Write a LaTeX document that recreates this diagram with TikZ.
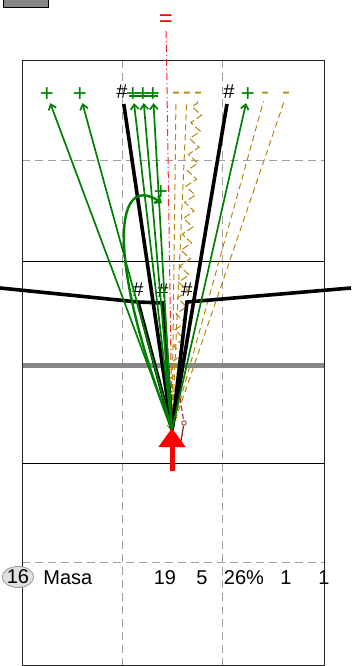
\documentclass[tikz,border=0pt]{standalone}
\usepackage{fontspec}
\setmainfont{Liberation Sans}
\usetikzlibrary{arrows.meta,positioning,shapes.geometric,decorations.pathmorphing}
\definecolor{pass}{HTML}{008000}
\definecolor{gold}{HTML}{B8860B}
\definecolor{dred}{HTML}{8B1A1A}
\definecolor{grd}{HTML}{A0A0A0}
\definecolor{bar}{HTML}{888888}
\tikzset{
  frame/.style={draw=black!85,line width=0.9pt},
  gridln/.style={draw=grd,line width=0.9pt,dash pattern=on 8pt off 5pt},
  plusmk/.style={text=pass,inner sep=1.5pt,font=\fontsize{24}{24}\selectfont},
  hashmk/.style={text=black,inner sep=1pt,font=\fontsize{20}{20}\selectfont},
  dashmk/.style={text=gold,inner sep=1.5pt,font=\fontsize{24}{24}\selectfont},
  track/.style={draw=black,line width=3.6pt},
  passar/.style={draw=pass,line width=1.7pt,-{Straight Barb[length=5pt,width=8pt]}},
  goldln/.style={draw=gold,line width=1pt,dash pattern=on 6pt off 4pt},
  refln/.style={draw=red!85,line width=1pt,dash pattern=on 7pt off 3pt on 1pt off 3pt},
  redar/.style={draw=red,line width=5pt,-{Triangle[length=19pt,width=26pt]}},
  rowtxt/.style={inner sep=0pt,text height=14pt,text depth=0pt,font=\fontsize{20}{20}\selectfont},
}

\begin{document}
\begin{tikzpicture}[x=1pt,y=-1pt]
\useasboundingbox (0,0) rectangle (351,666);
\draw[draw=black,fill=bar,line width=0.9pt] (3,-2) rectangle (48,7);

\draw[gridln] (122,60) -- (122,665);
\draw[gridln] (222,60) -- (222,665);
\draw[gridln] (22,160) -- (324,160);
\draw[gridln] (22,562) -- (324,562);
\draw[draw=black,line width=0.8pt] (22,261) -- (324,261);
\draw[draw=black,line width=0.8pt] (22,463) -- (324,463);
\draw[draw=bar,line width=5pt] (22,365) -- (324,365);
\draw[frame] (22,60) rectangle (324,665);

\coordinate (o) at (172,430);
\node[text=red,inner sep=1pt,font=\fontsize{24}{24}\selectfont] (eq) at (166,21) {=};

\node[plusmk] (g1) at (47,94.5) {+};
\node[plusmk] (g2) at (80,94.5) {+};
\node[plusmk] (g3) at (133,94.5) {+};
\node[plusmk] (g4) at (143,94.5) {+};
\node[plusmk] (g5) at (153,94.5) {+};
\node[plusmk] (g6) at (248,94.5) {+};
\node[plusmk] (g7) at (161,192.5) {+};
\draw[draw=pass,line width=1.5pt,shorten <=-4pt,shorten >=-5pt] ([yshift=-1.5pt]g3.center) -- ([yshift=-1.5pt]g5.center);
\node[hashmk] (h1) at (122,92) {\#};
\node[hashmk] (h2) at (229,92) {\#};
\node[dashmk] (d1) at (176,96) {-};
\node[dashmk] (d2) at (187,96) {-};
\node[dashmk] (d3) at (198,96) {-};
\node[dashmk] (d4) at (265,96) {-};
\node[dashmk] (d5) at (286,96) {-};

\coordinate (eL) at (0,288);
\coordinate (b1) at (138,302);
\coordinate (b2) at (163,303);
\coordinate (b3) at (187,302);
\coordinate (eR) at (351,288);
\node[hashmk,above=4pt of b1] (h3) {\#};
\node[hashmk,above=4pt of b2] (h4) {\#};
\node[hashmk,above=4pt of b3] (h5) {\#};

\draw[goldln] (o) -- (d1);
\draw[goldln] (o) -- (d2);
\draw[goldln,dash pattern=on 7pt off 3pt,decorate,decoration={zigzag,segment length=16pt,amplitude=5pt}] (o) -- (d3);
\draw[goldln] (o) -- (d4);
\draw[goldln] (o) -- (d5);
\draw[refln,shorten >=2pt] (o) -- (eq);

\draw[track,shorten >=4pt] (o) -- (h1);
\draw[track,shorten >=4pt] (o) -- (h2);
\draw[track] (eL) -- (b1) -- (b2) -- (o);
\draw[track] (b1) -- (o);
\draw[track] (eR) -- (b3) -- (o);

\draw[passar] (o) -- (g1);
\draw[passar] (o) -- (g2);
\draw[passar] (o) -- (g3);
\draw[passar] (o) -- (g4);
\draw[passar] (o) -- (g5);
\draw[passar] (o) -- (g6);
\coordinate (c7) at (162,203);
\draw[passar,line width=2.4pt] (o) .. controls (108,265) and (112,170) .. (c7);

\coordinate (r0) at (180,398);
\node[circle,draw=dred,line width=0.8pt,minimum size=4.5pt,inner sep=0pt] (ring) at (184,423) {};
\coordinate (r1) at (180,447);
\draw[draw=dred,line width=1pt,dash pattern=on 5pt off 3pt] (r0) -- (ring);
\draw[draw=dred,line width=1.2pt] (ring) -- (r1);
\coordinate (rb) at (172,471);
\coordinate (rt) at (172,428);
\draw[redar] (rb) -- (rt);

\node[ellipse,draw=grd,fill=black!12,line width=0.9pt,inner sep=0pt,minimum width=30pt,minimum height=21pt,font=\fontsize{20}{20}\selectfont] (num) at (18,577) {16};
\node[rowtxt,right=9pt of num] (name) {Masa};
\node[rowtxt] (v1) at (165,577) {19};
\node[rowtxt] (v2) at (202,577) {5};
\node[rowtxt] (v3) at (244,577) {26\%};
\node[rowtxt] (v4) at (286,577) {1};
\node[rowtxt] (v5) at (324,577) {1};
\end{tikzpicture}
\end{document}
